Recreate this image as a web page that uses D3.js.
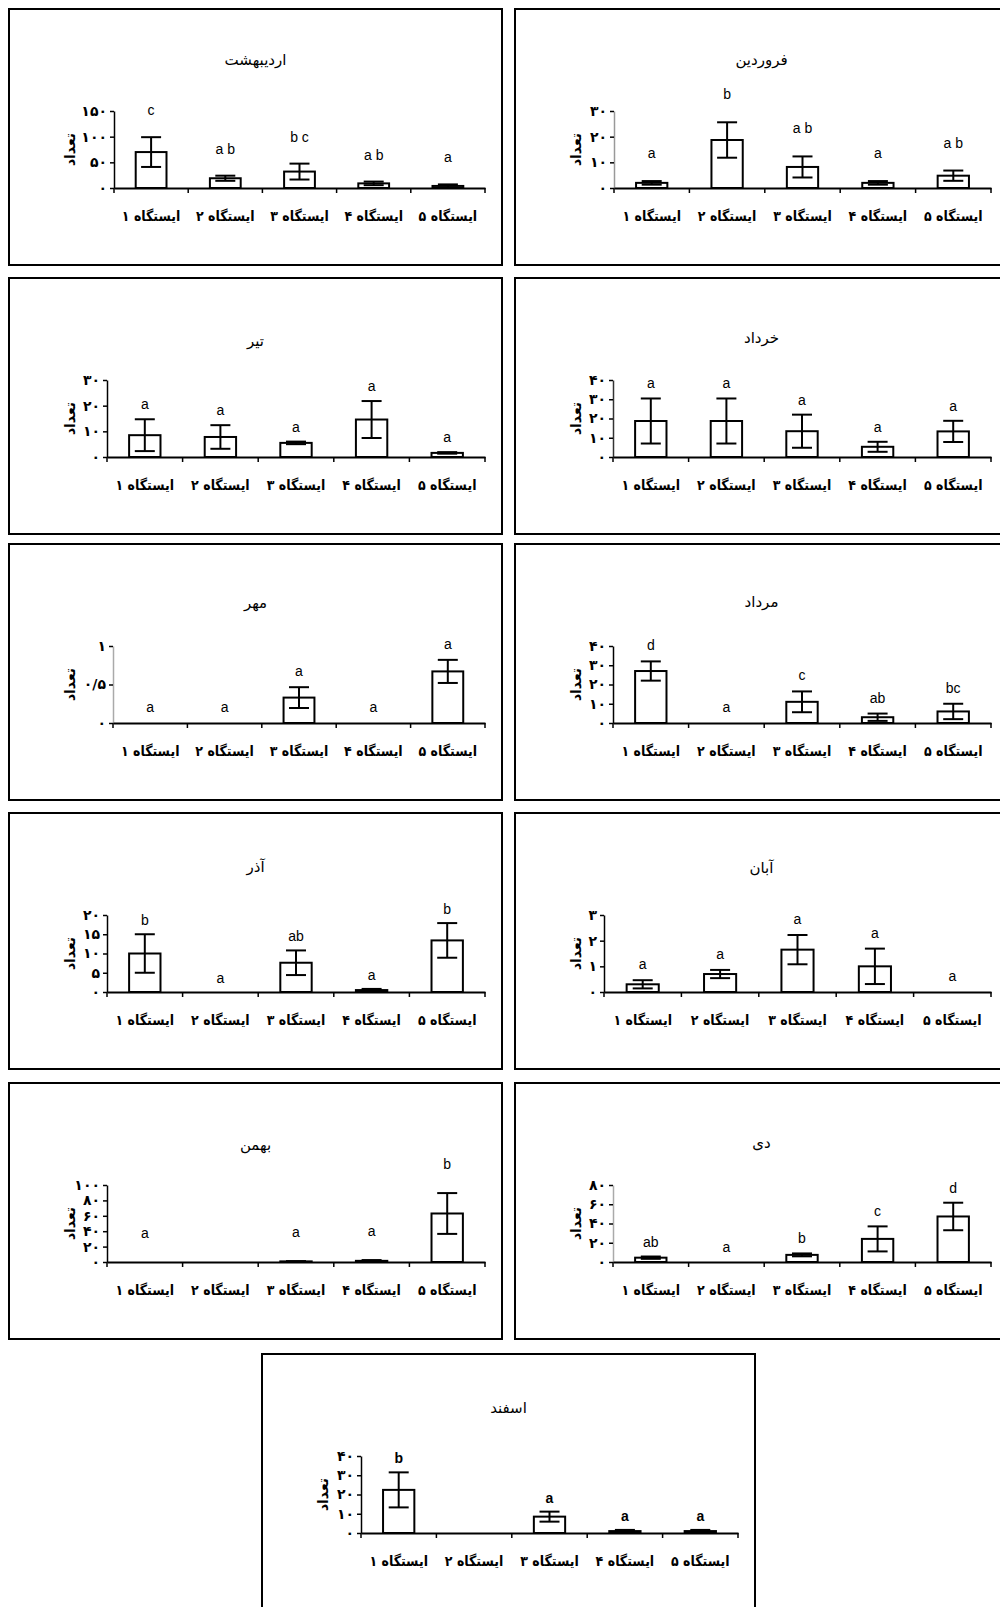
<!DOCTYPE html>
<html><head><meta charset="utf-8">
<script src="https://cdn.jsdelivr.net/npm/d3@7"></script>
<style>body{margin:0;background:#fff} svg{display:block}</style>
</head><body>
<script>
// ---------- DATA ----------
const stations = ["ایستگاه ۱", "ایستگاه ۲", "ایستگاه ۳", "ایستگاه ۴", "ایستگاه ۵"];
const months = ["فروردین", "اردیبهشت", "خرداد", "تیر", "مرداد", "مهر", "آبان", "آذر", "دی", "بهمن", "اسفند"];
const means = [
  [2, 18.7, 8.2, 2, 4.8],        // فروردین
  [70, 19, 32, 9, 4],            // اردیبهشت
  [18.7, 18.7, 13.4, 5.3, 13.3], // خرداد
  [8.5, 7.8, 5.5, 14.6, 1.6],    // تیر
  [27, 0, 11, 3, 6],             // مرداد
  [0, 0, 0.33, 0, 0.67],         // مهر
  [0.3, 0.7, 1.65, 1.0, 0],      // آبان
  [10, 0, 7.6, 0.5, 13.4],       // آذر
  [4.5, 0, 7.4, 24, 47.3],       // دی
  [0, 0, 0.8, 1.5, 63],          // بهمن
  [22.4, 0, 8.5, 1, 1]           // اسفند
];
const errors = [
  [0.7, 6.9, 4.1, 0.7, 2],
  [29, 5, 15.5, 3.5, 3],
  [11.7, 11.7, 8.6, 2.6, 5.5],
  [6.2, 4.6, 0.5, 7.2, 0.3],
  [5, 0, 5.4, 1.9, 4],
  [0, 0, 0.135, 0, 0.15],
  [0.16, 0.16, 0.57, 0.69, 0],
  [5, 0, 3.2, 0.3, 4.5],
  [1.2, 0, 1.5, 13, 14.3],
  [0, 0, 0.3, 1, 26.5],
  [9.1, 0, 2.6, 0.6, 0.6]
];
const letters = [
  ["a", "b", "a b", "a", "a b"],
  ["c", "a b", "b c", "a b", "a"],
  ["a", "a", "a", "a", "a"],
  ["a", "a", "a", "a", "a"],
  ["d", "a", "c", "ab", "bc"],
  ["a", "a", "a", "a", "a"],
  ["a", "a", "a", "a", "a"],
  ["b", "a", "ab", "a", "b"],
  ["ab", "a", "b", "c", "d"],
  ["a", "", "a", "a", "b"],
  ["b", "", "a", "a", "a"]
];
const yTicks = [
  [0, 10, 20, 30],
  [0, 50, 100, 150],
  [0, 10, 20, 30, 40],
  [0, 10, 20, 30],
  [0, 10, 20, 30, 40],
  [0, 0.5, 1],
  [0, 1, 2, 3],
  [0, 5, 10, 15, 20],
  [0, 20, 40, 60, 80],
  [0, 20, 40, 60, 80, 100],
  [0, 10, 20, 30, 40]
];
const yTitle = "تعداد";

// ---------- LAYOUT ----------
const W = 1000, H = 1607, PW = 493, PH = 256;
const layout = [
  {x: 515, y: 9,    left: 99,  ty: 51, gap: 23, axis: "#999"},
  {x: 9,   y: 9,    left: 105, ty: 51, gap: 22, axis: "#000"},
  {x: 515, y: 278,  left: 98,  ty: 60, gap: 10, axis: "#333"},
  {x: 9,   y: 278,  left: 98,  ty: 63, gap: 10, axis: "#000"},
  {x: 515, y: 544,  left: 98,  ty: 58, gap: 11, axis: "#000"},
  {x: 9,   y: 544,  left: 104, ty: 59, gap: 11, axis: "#aaa"},
  {x: 515, y: 813,  left: 89,  ty: 55, gap: 11, axis: "#000"},
  {x: 9,   y: 813,  left: 98,  ty: 54, gap: 9,  axis: "#000"},
  {x: 515, y: 1083, left: 98,  ty: 60, gap: 10, axis: "#aaa"},
  {x: 9,   y: 1083, left: 98,  ty: 62, gap: 24, axis: "#000"},
  {x: 262, y: 1354, left: 99,  ty: 54, gap: 9,  axis: "#000", bold: true}
];
const plotRight = 476, plotTop = 102, plotBottom = 179;
const faFont = "'DejaVu Sans', sans-serif";
const faCond = "'DejaVu Sans Condensed', 'DejaVu Sans', sans-serif";
const latFont = "'Liberation Sans', Arial, sans-serif";
const fa = v => String(v).replace(/\d/g, d => "۰۱۲۳۴۵۶۷۸۹"[+d]).replace(".", "/");

const svg = d3.select("body").append("svg").attr("width", W).attr("height", H);

months.forEach((m, i) => {
  const L = layout[i];
  const g = svg.append("g").attr("transform", `translate(${L.x},${L.y})`);
  g.append("rect").attr("x", 0).attr("y", 0).attr("width", PW).attr("height", PH)
    .attr("fill", "#fff").attr("stroke", "#000").attr("stroke-width", 2);

  g.append("text").attr("x", PW / 2).attr("y", L.ty).attr("text-anchor", "middle")
    .attr("dominant-baseline", "central").attr("direction", "rtl")
    .style("font-family", faFont).style("font-size", "15px").text(m);

  const ticks = yTicks[i];
  const x = d3.scaleBand().domain(stations).range([L.left, plotRight]);
  const y = d3.scaleLinear().domain([0, d3.max(ticks)]).range([plotBottom, plotTop]);

  const ya = g.append("g").attr("transform", `translate(${L.left},0)`)
    .call(d3.axisLeft(y).tickValues(ticks).tickFormat(fa).tickSize(4).tickSizeOuter(0).tickPadding(3));
  ya.select(".domain").attr("stroke", L.axis).attr("stroke-width", 1.5);
  ya.selectAll(".tick line").attr("stroke", "#000").attr("stroke-width", 1.5);
  ya.selectAll(".tick text").style("font-family", faFont).style("font-size", "14px")
    .style("font-weight", "bold").attr("direction", "ltr");

  const xa = g.append("g").attr("transform", `translate(0,${plotBottom})`)
    .call(d3.axisBottom(x).tickSize(0).tickSizeOuter(0).tickFormat(""));
  xa.select(".domain").attr("stroke", "#000").attr("stroke-width", 2);
  const bounds = stations.map(s => x(s)).concat([x.range()[1]]);
  g.selectAll(".xt").data(bounds).join("line")
    .attr("x1", d => d).attr("x2", d => d).attr("y1", plotBottom).attr("y2", plotBottom + 5)
    .attr("stroke", "#000").attr("stroke-width", 1.5);
  g.selectAll(".xl").data(stations).join("text")
    .attr("x", s => x(s) + x.bandwidth() / 2).attr("y", plotBottom + 28)
    .attr("text-anchor", "middle").attr("dominant-baseline", "central").attr("direction", "rtl")
    .style("font-family", faCond).style("font-size", "14px").style("font-weight", "bold")
    .text(s => s);

  g.append("text").attr("transform", `translate(61,${(plotTop + plotBottom) / 2}) rotate(-90)`)
    .attr("text-anchor", "middle").attr("dominant-baseline", "central").attr("direction", "rtl")
    .style("font-family", faFont).style("font-size", "14px").style("font-weight", "bold").text(yTitle);

  const bw = x.bandwidth() * 0.415, cap = 10;
  const rows = stations.map((s, j) => ({s, m: means[i][j], e: errors[i][j], l: letters[i][j]}));

  g.selectAll(".bar").data(rows.filter(r => r.m > 0)).join("rect")
    .attr("x", r => x(r.s) + x.bandwidth() / 2 - bw / 2).attr("width", bw)
    .attr("y", r => y(r.m)).attr("height", r => y(0) - y(r.m))
    .attr("fill", "#fff").attr("stroke", "#000").attr("stroke-width", 2);

  const eb = g.selectAll(".eb").data(rows.filter(r => r.e > 0)).join("g")
    .attr("transform", r => `translate(${x(r.s) + x.bandwidth() / 2},0)`);
  eb.append("line").attr("x1", 0).attr("x2", 0)
    .attr("y1", r => y(r.m + r.e)).attr("y2", r => y(Math.max(0, r.m - r.e)))
    .attr("stroke", "#000").attr("stroke-width", 2);
  eb.append("line").attr("x1", -cap).attr("x2", cap)
    .attr("y1", r => y(r.m + r.e)).attr("y2", r => y(r.m + r.e))
    .attr("stroke", "#000").attr("stroke-width", 2);
  eb.append("line").attr("x1", -cap).attr("x2", cap)
    .attr("y1", r => y(Math.max(0, r.m - r.e))).attr("y2", r => y(Math.max(0, r.m - r.e)))
    .attr("stroke", "#000").attr("stroke-width", 2);

  g.selectAll(".lt").data(rows).join("text")
    .attr("x", r => x(r.s) + x.bandwidth() / 2).attr("y", r => y(r.m + r.e) - L.gap)
    .attr("text-anchor", "middle")
    .style("font-family", latFont).style("font-size", "14px")
    .style("font-weight", L.bold ? "bold" : "normal")
    .style("white-space", "pre").attr("xml:space", "preserve")
    .text(r => r.l);
});
</script>
</body></html>
